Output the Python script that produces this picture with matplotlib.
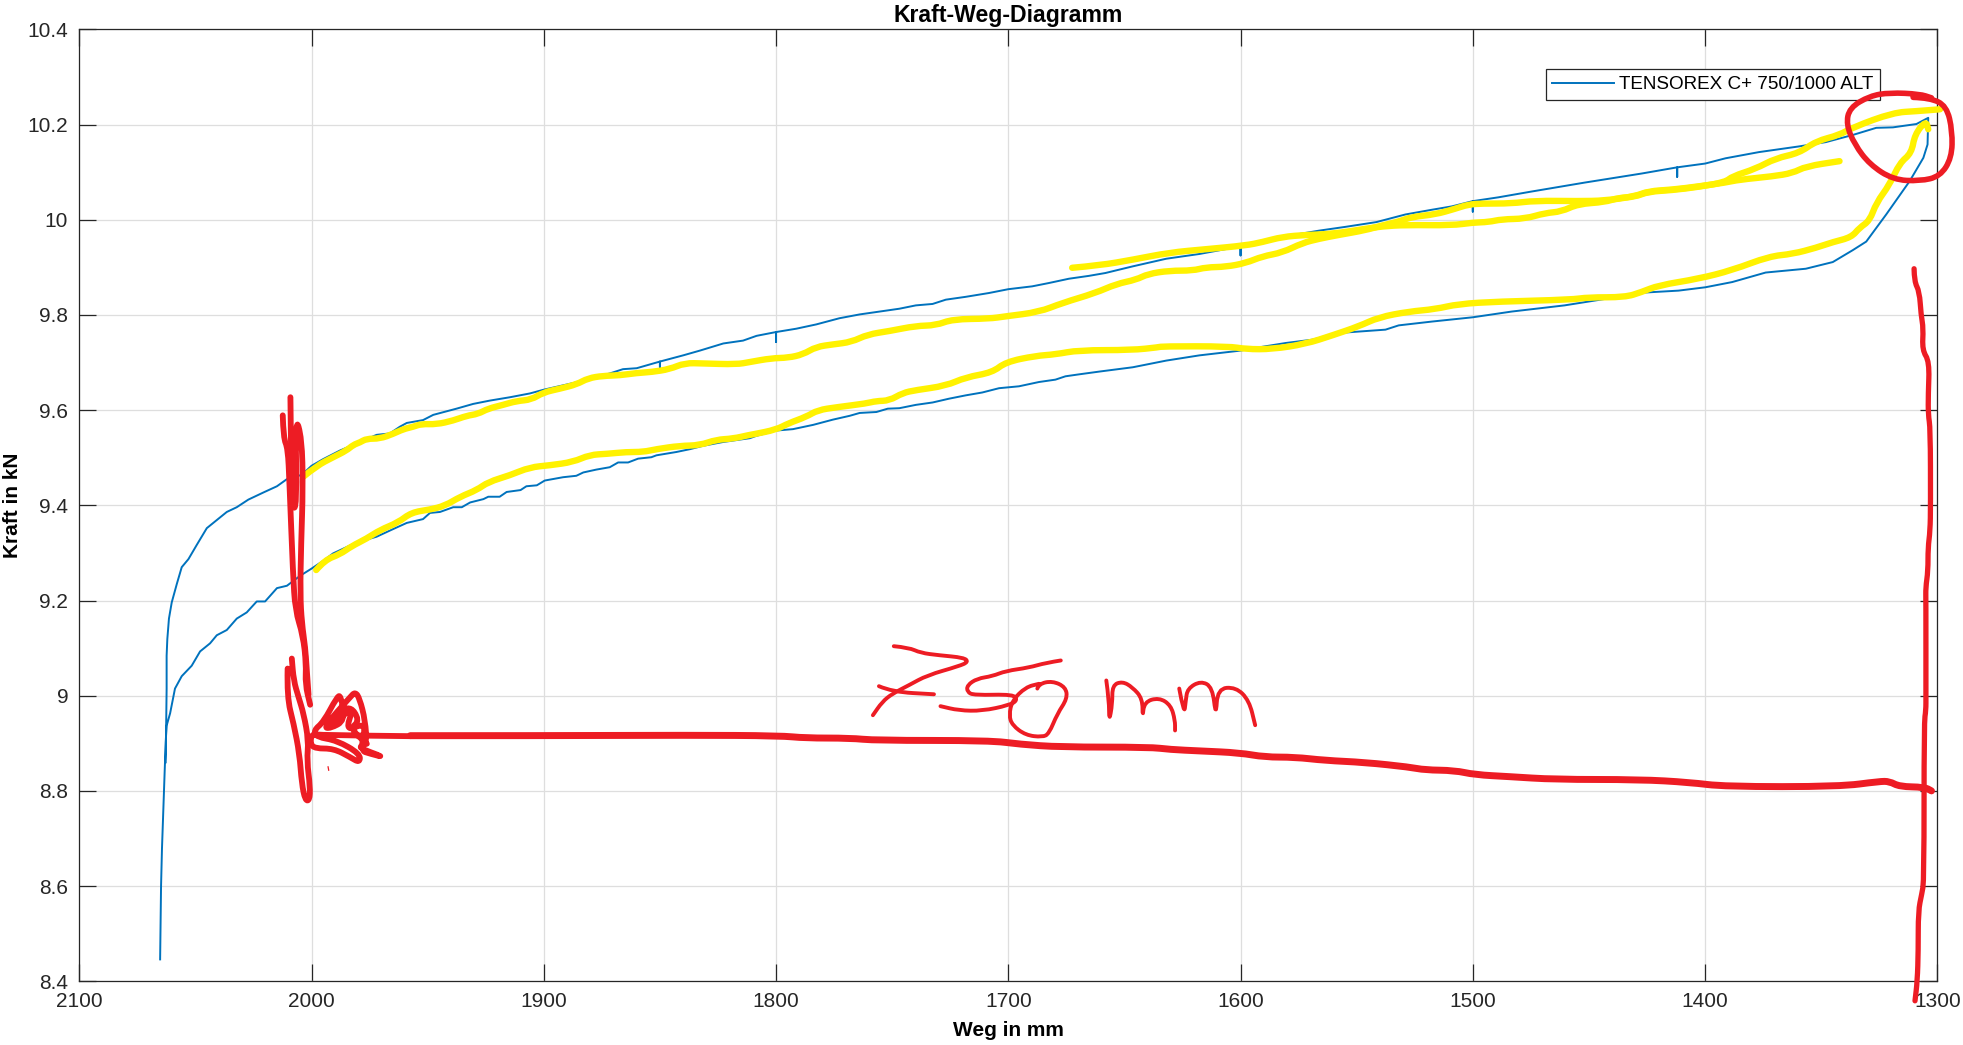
import matplotlib
matplotlib.use("Agg")
import matplotlib.pyplot as plt
from matplotlib.patches import PathPatch
from matplotlib.path import Path

plt.rcParams['font.family'] = ['Liberation Sans', 'DejaVu Sans']

# measured curve: up from the start, along the lower branch, back along the upper one
blue_x = [2065.2, 2064.8, 2064.4, 2063.5, 2062.8, 2062.4, 2060.9, 2058.8, 2055.9, 2051.6, 2048, 2043.7, 2040.8, 2036.5, 2032.2, 2027.9, 2023.6, 2020, 2014.9, 2010.6, 2004.9, 2000, 1994.8,
          1990.7, 1980.6, 1972, 1964.9, 1959, 1952, 1949, 1944.7, 1939, 1935.3, 1931.7, 1926, 1923.9, 1919, 1916, 1910, 1907.5, 1903, 1899.6, 1891.7, 1886, 1883, 1877.4, 1871.6, 1868, 1863.7, 1859.4, 1853.7, 1851.5, 1842.9, 1837, 1831.4, 1822.8, 1811.3,
          1808.4, 1800, 1792.7, 1784, 1775.5, 1768.3, 1764, 1756.8, 1751.9, 1746.9, 1739.8, 1732.6, 1725.5, 1718.3, 1711.2, 1704, 1695.4, 1686.8, 1679.7, 1675.4, 1669.7,
          1660.7, 1646.4, 1632, 1617.7, 1600, 1590.6, 1580.5, 1569, 1557.7, 1537.6, 1531.9, 1517.6, 1500, 1483.3,
          1460.5, 1425.8, 1411.4, 1399.9, 1388.3, 1373.9, 1356.6, 1345, 1336.4, 1330.6, 1322, 1311.9, 1306, 1304.2, 1303.9,
          1309, 1319.1, 1326.3, 1336.4, 1348, 1359.5, 1376.8, 1391.2, 1399.9, 1412, 1412, 1412, 1427.3, 1451.8, 1474.9, 1489,
          1500, 1500, 1500, 1509, 1517.5, 1529, 1541.5, 1554.8, 1566.2, 1582, 1600, 1600, 1600, 1617.7, 1632, 1646.4,
          1658.2, 1665.3, 1673.9, 1682.5, 1689.7, 1700, 1708.3, 1718.3, 1726.9, 1732.6, 1739.8, 1746.9, 1755.5, 1764, 1772.7, 1782.7, 1791.3, 1800, 1800, 1800, 1808.4, 1814.2, 1822.7, 1832.8,
          1840, 1850, 1850, 1850, 1860, 1865.9, 1871.6, 1884.5, 1891.7, 1899.9, 1906, 1914.6, 1923.2, 1930.4, 1937.6, 1947.6, 1952, 1959, 1962, 1966.3, 1972, 1987.8, 1995, 2000,
          2004.2, 2010.6, 2014.9, 2020.7, 2027.2, 2032.2, 2036.5, 2040.8, 2045.1, 2049.4, 2053, 2055.9, 2058, 2060.2, 2061.4, 2062.1, 2062.4, 2062.4, 2062.6, 2062.8]
blue_y = [8.446, 8.6, 8.679, 8.808, 8.903, 8.937, 8.963, 9.015, 9.041, 9.063, 9.093, 9.11, 9.127, 9.138, 9.162, 9.175, 9.198, 9.198, 9.226, 9.231, 9.252, 9.267, 9.284,
          9.299, 9.322, 9.334, 9.35, 9.363, 9.371, 9.384, 9.386, 9.396, 9.396, 9.406, 9.413, 9.418, 9.418, 9.428, 9.432, 9.44, 9.442, 9.452, 9.459, 9.462, 9.469, 9.475, 9.48, 9.49, 9.49, 9.498, 9.501, 9.505, 9.512, 9.518, 9.525, 9.533, 9.541,
          9.546, 9.557, 9.56, 9.569, 9.58, 9.588, 9.594, 9.596, 9.603, 9.604, 9.611, 9.616, 9.624, 9.631, 9.637, 9.646, 9.65, 9.659, 9.664, 9.671, 9.675,
          9.681, 9.69, 9.704, 9.715, 9.725, 9.733, 9.741, 9.748, 9.762, 9.769, 9.778, 9.786, 9.795, 9.807,
          9.82, 9.847, 9.851, 9.858, 9.869, 9.889, 9.897, 9.911, 9.936, 9.954, 10.011, 10.081, 10.13, 10.158, 10.214,
          10.201, 10.194, 10.193, 10.178, 10.163, 10.154, 10.142, 10.129, 10.118, 10.11, 10.09, 10.11, 10.097, 10.078, 10.059, 10.047,
          10.039, 10.017, 10.039, 10.028, 10.021, 10.011, 9.995, 9.985, 9.977, 9.964, 9.944, 9.925, 9.944, 9.928, 9.918, 9.902,
          9.888, 9.882, 9.876, 9.867, 9.86, 9.854, 9.846, 9.838, 9.832, 9.823, 9.82, 9.813, 9.807, 9.801, 9.793, 9.78, 9.771, 9.764, 9.743, 9.764, 9.756, 9.746, 9.74, 9.725,
          9.715, 9.702, 9.69, 9.702, 9.688, 9.686, 9.677, 9.66, 9.652, 9.643, 9.635, 9.627, 9.62, 9.613, 9.603, 9.59, 9.579, 9.573, 9.565, 9.551, 9.548, 9.515, 9.497, 9.483,
          9.464, 9.455, 9.44, 9.427, 9.412, 9.396, 9.386, 9.369, 9.352, 9.317, 9.287, 9.27, 9.235, 9.196, 9.162, 9.119, 9.084, 9.015, 8.929, 8.86]

# yellow marker strokes
yellow_low_x = [1998, 1994.3, 1987.8, 1982.8, 1976.3, 1970.6, 1962.7, 1957, 1949, 1942.6, 1936, 1928.9, 1923.9, 1914.6, 1906, 1897.4, 1887.4, 1880.2, 1873, 1864.4, 1857.3, 1851.5, 1841.5, 1832.9, 1825.7, 1818.6, 1811.3,
                1809.9, 1799.9, 1794.8, 1787, 1782, 1774, 1761.1, 1757, 1751.2, 1745.5, 1739.8, 1726.9, 1718.3, 1706.9, 1701.1, 1688.3, 1679.7, 1669.7, 1646.8, 1635.3,
                1633.5, 1604.9, 1597.7, 1586.3, 1572, 1560.5, 1549.1, 1540.5, 1527.6, 1516.2, 1506.2, 1489, 1457.6, 1450.4, 1434.5, 1427.3, 1420.1, 1402.7, 1388.3, 1372.4, 1362.3, 1352.2, 1345, 1337, 1333.5, 1329.1, 1326.3, 1320.5, 1316.2, 1311.1, 1309.7, 1304.9, 1303.9]
yellow_low_y = [9.264, 9.285, 9.297, 9.314, 9.33, 9.348, 9.364, 9.385, 9.391, 9.399, 9.418, 9.432, 9.449, 9.463, 9.48, 9.484, 9.491, 9.506, 9.508, 9.512, 9.512, 9.518, 9.525, 9.526, 9.538, 9.54, 9.548,
                9.549, 9.559, 9.572, 9.586, 9.6, 9.606, 9.614, 9.619, 9.62, 9.636, 9.642, 9.651, 9.669, 9.679, 9.701, 9.714, 9.717, 9.726, 9.726, 9.732,
                9.734, 9.734, 9.728, 9.728, 9.739, 9.757, 9.776, 9.795, 9.807, 9.812, 9.823, 9.828, 9.832, 9.837, 9.837, 9.848, 9.862, 9.876, 9.894, 9.923, 9.928, 9.941, 9.953, 9.963, 9.983, 9.998, 10.035, 10.074, 10.119, 10.14, 10.179, 10.208, 10.19]

yellow_mid_x = [2003.3, 1997.8, 1990.7, 1985, 1982, 1979.2, 1976.3, 1970.6, 1964.9, 1960.5, 1956.2, 1952.7, 1946.2, 1939, 1933.3, 1928.3, 1924, 1917.5, 1911.8, 1905.3, 1900.3, 1893.1, 1885.9, 1880.9, 1874.5, 1867.3, 1860, 1853.6, 1845.8, 1839.3, 1831.4,
                1817, 1811.3, 1802, 1794.8, 1788.4, 1782.7, 1775.5, 1767.6, 1760.5, 1751.2, 1739.8, 1731.2, 1724, 1708.3, 1701.1, 1686.8, 1676.8, 1662.5, 1653.5, 1644.9, 1639.9, 1630.6, 1620.6, 1614.9, 1606.3, 1597.7, 1590.6, 1582, 1573.4, 1566.2, 1557.7, 1546.2, 1539.1, 1531.9, 1526.2, 1516.2, 1507.6, 1501.9, 1496.1, 1483.3, 1473.3, 1454.7, 1443.1, 1430.2, 1424.4, 1414.3, 1402.7, 1391.2, 1385.4, 1371, 1362.3, 1356.6, 1342.1]
yellow_mid_y = [9.461, 9.483, 9.501, 9.515, 9.527, 9.532, 9.54, 9.54, 9.55, 9.56, 9.565, 9.571, 9.57, 9.578, 9.588, 9.592, 9.603, 9.611, 9.619, 9.622, 9.637, 9.645, 9.654, 9.667, 9.672, 9.673, 9.678, 9.68, 9.686, 9.699, 9.698,
                9.696, 9.701, 9.709, 9.71, 9.717, 9.733, 9.738, 9.743, 9.759, 9.766, 9.777, 9.778, 9.791, 9.792, 9.797, 9.806, 9.825, 9.846, 9.865, 9.874, 9.886, 9.893, 9.893, 9.9, 9.901, 9.909, 9.923, 9.931, 9.951, 9.96, 9.968, 9.978, 9.988, 9.996, 10.006, 10.011, 10.023, 10.032, 10.034, 10.034, 10.04, 10.039, 10.04, 10.049, 10.06, 10.063, 10.07, 10.078, 10.084, 10.091, 10.098, 10.112, 10.123]

yellow_top_x = [1672.5, 1660.7, 1646.4, 1630.6, 1614.9, 1597.7, 1590.6, 1582, 1572, 1560.5, 1546.2, 1539.1, 1529, 1509, 1500, 1493.3, 1487.5, 1477.5, 1468.9, 1461.9, 1454.7, 1443.1, 1437.4, 1430.2, 1424.4, 1414.3, 1402.7, 1391.2, 1388.3, 1378.2, 1369.6, 1359.5, 1352.2, 1342.1, 1336.4, 1319, 1309, 1298.8]
yellow_top_y = [9.899, 9.904, 9.916, 9.931, 9.938, 9.946, 9.953, 9.964, 9.968, 9.97, 9.981, 9.986, 9.989, 9.988, 9.994, 9.995, 10.001, 10.002, 10.014, 10.017, 10.033, 10.037, 10.046, 10.048, 10.059, 10.062, 10.069, 10.079, 10.091, 10.107, 10.129, 10.14, 10.165, 10.178, 10.194, 10.225, 10.228, 10.232]

# red marker strokes
red_dim_x = [1957.5, 1901.6, 1837, 1798.2, 1787.5, 1768, 1757.3, 1707.9, 1695, 1677.7, 1639, 1630.4, 1617.5, 1600.3, 1589.6, 1576.7, 1563.7, 1546.6, 1527.2, 1520.7, 1507.8, 1499.2, 1484.2, 1464.8, 1428.2, 1406.7, 1391.6, 1342.1, 1324.9, 1320.6, 1316.3, 1305.5, 1302.5]
red_dim_y = [8.916, 8.916, 8.917, 8.916, 8.911, 8.911, 8.906, 8.906, 8.898, 8.892, 8.892, 8.887, 8.884, 8.88, 8.871, 8.871, 8.864, 8.86, 8.85, 8.844, 8.843, 8.834, 8.83, 8.824, 8.824, 8.818, 8.809, 8.809, 8.82, 8.82, 8.809, 8.808, 8.8]

red_right_x = [1310, 1309.9, 1307.7, 1307, 1306, 1306.5, 1303.4, 1303.9, 1303.9, 1303, 1302.9, 1303.1, 1304, 1304, 1305, 1304.9, 1304.9, 1304.9, 1305.7, 1305.7, 1306.7, 1308.2, 1308.2, 1308.6, 1309.6]
red_right_y = [9.897, 9.87, 9.849, 9.8, 9.772, 9.726, 9.702, 9.632, 9.59, 9.562, 9.4, 9.346, 9.311, 9.262, 9.227, 9.2, 9.0, 8.969, 8.944, 8.611, 8.583, 8.548, 8.464, 8.401, 8.359]

red_circle_x = [1310.4, 1303.2, 1296, 1293.5, 1293.8, 1298.8, 1307.5, 1319, 1329.1, 1335.6, 1339.2, 1337.8, 1329.1, 1320.5, 1307.5, 1302.5]
red_circle_y = [10.257, 10.256, 10.239, 10.186, 10.13, 10.091, 10.081, 10.084, 10.116, 10.158, 10.2, 10.235, 10.26, 10.267, 10.264, 10.256]

red_left_a_x = [2012.4, 2012.1, 2010.2, 2009.5, 2008, 2007, 2003.7, 2002.3, 2002.7, 2000.6]
red_left_a_y = [9.589, 9.541, 9.52, 9.446, 9.257, 9.179, 9.127, 9.067, 9.024, 8.981]
red_left_b_x = [2009.1, 2008.8, 2008.6, 2006.3, 2007, 2004.2, 2003.7, 2004.5, 2004.9, 2004.2, 2002.7, 2002, 2001.3]
red_left_b_y = [9.627, 9.515, 9.395, 9.395, 9.589, 9.541, 9.438, 9.317, 9.214, 9.153, 9.101, 9.05, 9.002]
red_left_c_x = [2010.3, 2010.6, 2007.7, 2005.2, 2004.2, 2002.7, 2000.9, 2000.6, 2002, 2001.3, 2003.4, 2005.6, 2007.7, 2008.5]
red_left_c_y = [9.057, 8.997, 8.941, 8.878, 8.815, 8.78, 8.78, 8.808, 8.864, 8.906, 8.962, 8.997, 9.032, 9.078]

red_scribble_x = [1957.5, 1996.3, 1999.9, 2000.6, 1998.4, 1990.5, 1983.4, 1979.3, 1979.1, 1989.1, 1997.7, 1999.1, 1994.8, 1989.1, 1987.4, 1985.5, 1992, 1994.8, 1983.4, 1981.2, 1979.3, 1976.9, 1976.2, 1980.5, 1968.3, 1974.7, 1979.1, 1976.2, 1985.5, 1981.9, 1989.1, 1993.4, 1984.1, 1979.1, 1983.4, 1976.2]
red_scribble_y = [8.915, 8.917, 8.92, 8.899, 8.889, 8.889, 8.871, 8.859, 8.878, 8.906, 8.913, 8.927, 8.945, 8.997, 9.001, 8.948, 8.931, 8.934, 8.997, 9.008, 8.994, 8.948, 8.896, 8.892, 8.87, 8.878, 8.885, 8.945, 8.924, 8.976, 8.948, 8.941, 8.983, 8.948, 8.931, 8.899]
red_dot_x = [1992.9, 1992.6]
red_dot_y = [8.851, 8.843]

# the handwritten "750 mm"
hand_7_x = [1749.3, 1742.8, 1737.8, 1729.9, 1719.1, 1717.2, 1721.3, 1734.9, 1742.8, 1750, 1754.3, 1758.3]
hand_7_y = [9.104, 9.101, 9.09, 9.085, 9.08, 9.071, 9.062, 9.043, 9.022, 9.004, 8.987, 8.959]
hand_bar_x = [1755.7, 1750, 1732]
hand_bar_y = [9.02, 9.008, 9.003]
hand_5_x = [1677.4, 1683.9, 1691.1, 1701.1, 1706.9, 1713.4, 1717.7, 1717.7, 1714.8, 1697.6, 1696.1, 1699.7, 1711.2, 1721.3, 1729.2]
hand_5_y = [9.074, 9.069, 9.059, 9.052, 9.041, 9.036, 9.022, 9.008, 9.001, 9.003, 8.99, 8.98, 8.968, 8.969, 8.978]
hand_0_x = [1687.5, 1686.8, 1681, 1675.3, 1674.6, 1678.9, 1682.5, 1685.3, 1692.5, 1698.3, 1699.7, 1698.3, 1692.5, 1686.8]
hand_0_y = [9.015, 9.025, 9.031, 9.018, 8.994, 8.962, 8.92, 8.913, 8.917, 8.938, 8.959, 8.99, 9.018, 9.025]
hand_m1_x = [1657.8, 1656.6, 1656.6, 1655.2, 1655.2, 1650.9, 1646.6, 1642.2, 1642.2, 1641.5, 1635.1, 1630, 1628.2, 1628.2]
hand_m1_y = [9.032, 8.99, 8.945, 8.983, 9.022, 9.03, 9.018, 8.994, 8.952, 8.987, 8.996, 8.98, 8.948, 8.927]
hand_m2_x = [1626.4, 1624.3, 1623.6, 1622.8, 1617.1, 1612.1, 1610.6, 1609.9, 1602, 1596.3, 1593.7]
hand_m2_y = [9.015, 8.959, 8.99, 9.015, 9.031, 9.018, 8.955, 9.015, 9.018, 8.99, 8.938]

x_ticks = [2100, 2000, 1900, 1800, 1700, 1600, 1500, 1400, 1300]
y_ticks = [8.4, 8.6, 8.8, 9, 9.2, 9.4, 9.6, 9.8, 10, 10.2, 10.4]

yellow = '#FFF200'
red = '#ED1C24'


def pen_stroke(ax, xs, ys, color, lw, zorder=6):
    # marker pen look: the read points become the controls of a rounded curve
    points = list(zip(xs, ys))
    verts = [points[0]]
    codes = [Path.MOVETO]
    for i in range(1, len(points) - 1):
        mid = ((points[i][0] + points[i + 1][0]) / 2, (points[i][1] + points[i + 1][1]) / 2)
        verts += [points[i], mid]
        codes += [Path.CURVE3, Path.CURVE3]
    verts.append(points[-1])
    codes.append(Path.LINETO)
    ax.add_patch(PathPatch(Path(verts, codes), fill=False, edgecolor=color, lw=lw, zorder=zorder,
                           capstyle='round', joinstyle='round', clip_on=False))


W, H = 1963, 1045
fig = plt.figure(figsize=(W / 100, H / 100), dpi=100)
ax = fig.add_axes([79.3 / W, 1 - 981.3 / H, (1937.3 - 79.3) / W, (981.3 - 29.3) / H])

ax.plot(blue_x, blue_y, color='#0072BD', lw=1.4, zorder=2, label='TENSOREX C+ 750/1000 ALT')

for xs, ys in [(yellow_low_x, yellow_low_y), (yellow_mid_x, yellow_mid_y), (yellow_top_x, yellow_top_y)]:
    pen_stroke(ax, xs, ys, yellow, 4.6, zorder=5)

pen_stroke(ax, red_dim_x, red_dim_y, red, 5.0)
pen_stroke(ax, red_right_x, red_right_y, red, 3.8)
pen_stroke(ax, red_circle_x, red_circle_y, red, 4.0)
for xs, ys in [(red_left_a_x, red_left_a_y), (red_left_b_x, red_left_b_y), (red_left_c_x, red_left_c_y),
               (red_scribble_x, red_scribble_y)]:
    pen_stroke(ax, xs, ys, red, 4.2)
pen_stroke(ax, red_dot_x, red_dot_y, red, 0.9)
for xs, ys in [(hand_7_x, hand_7_y), (hand_bar_x, hand_bar_y), (hand_5_x, hand_5_y), (hand_0_x, hand_0_y),
               (hand_m1_x, hand_m1_y), (hand_m2_x, hand_m2_y)]:
    pen_stroke(ax, xs, ys, red, 2.8)

ax.set_xlim(2100, 1300)
ax.set_ylim(8.4, 10.4)
ax.set_xticks(x_ticks)
ax.set_yticks(y_ticks)
ax.set_yticklabels(['%g' % v for v in y_ticks])
ax.grid(True, color='#dedede', lw=0.9)
ax.set_axisbelow(True)
ax.tick_params(direction='in', top=True, right=True, length=12, width=0.9, color='#262626',
               labelcolor='#262626', labelsize=15, pad=8)
for spine in ax.spines.values():
    spine.set_color('#262626')
    spine.set_linewidth(0.9)

ax.set_title('Kraft-Weg-Diagramm', fontsize=16.6, fontweight='bold', color='black', pad=5)
ax.set_xlabel('Weg in mm', fontsize=15, fontweight='bold', color='black', labelpad=7)
ax.set_ylabel('Kraft in kN', fontsize=15, fontweight='bold', color='black', labelpad=4)

leg = ax.legend(loc='upper right', bbox_to_anchor=(0.9692, 0.958), borderaxespad=0, fancybox=False,
                framealpha=1, edgecolor='#262626', fontsize=13.6, handlelength=3.25, handletextpad=0.3,
                borderpad=0.35)
leg.get_frame().set_linewidth(0.9)
leg.set_zorder(3)

fig.savefig('out.png', dpi=100)
